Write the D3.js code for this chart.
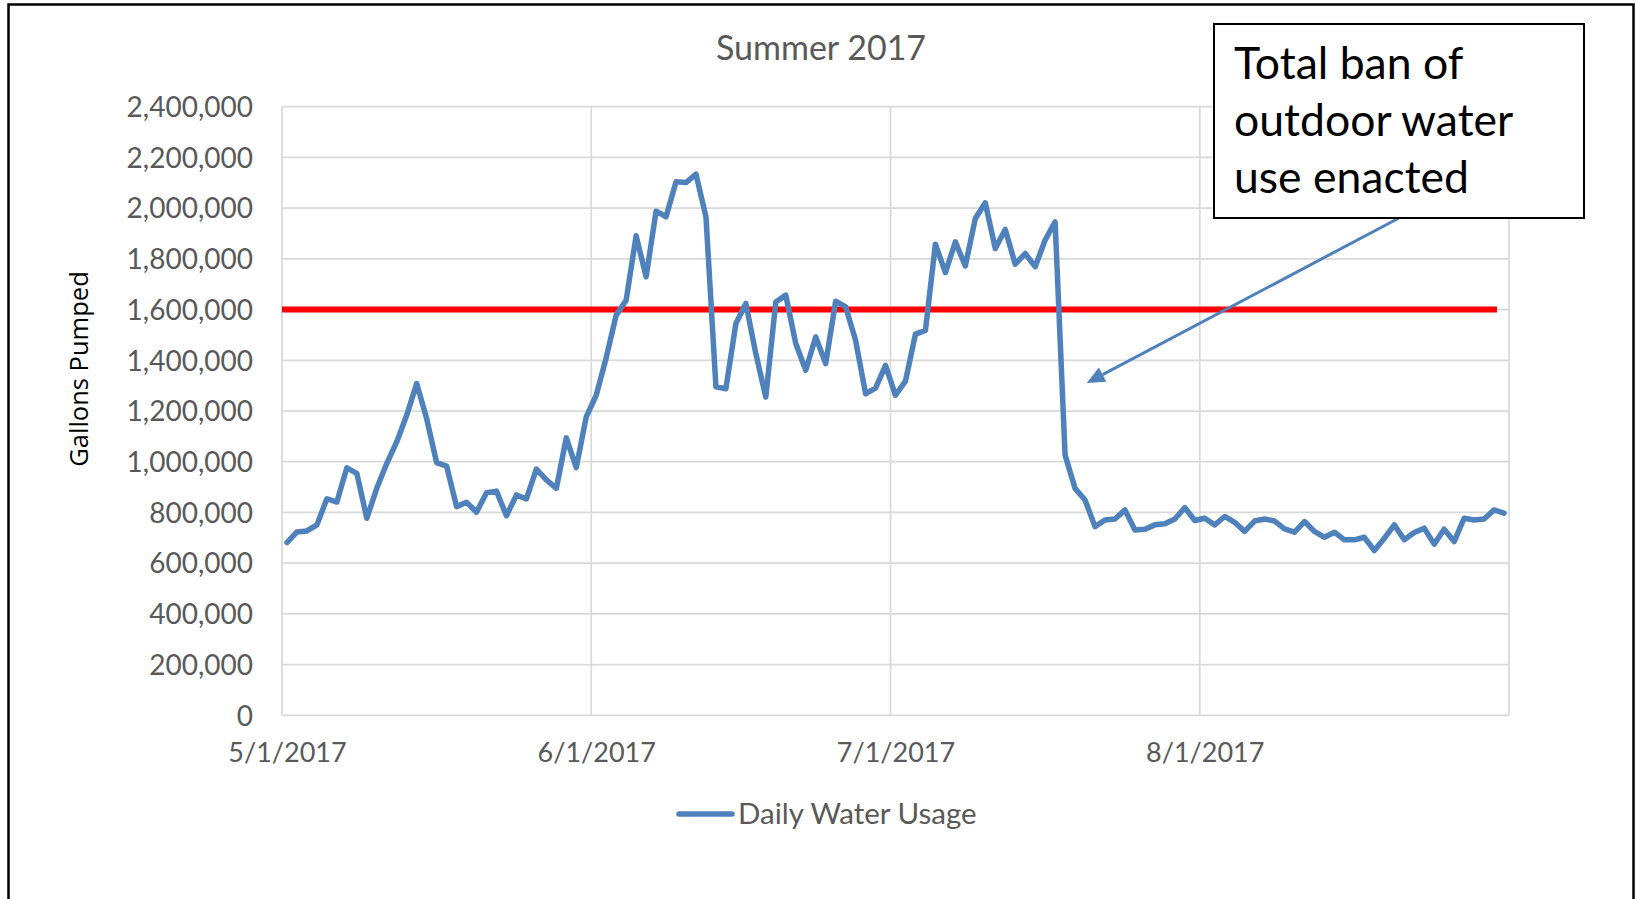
<!DOCTYPE html>
<html>
  <head>
      <title>Summer 2017</title>
      <script src="https://cdn.jsdelivr.net/npm/d3@7"></script>
      <style>
        body { margin: 0; background: #fff; }
        text { font-family: Lato, "Open Sans", sans-serif; }
      </style>
  </head>
  <body>
        <div id="chart"></div>
        <script>
           // daily gallons pumped, one array per month
           var mayUsage = [681000, 723000, 727000, 751000, 854000, 841000, 976000, 954000, 777000, 895000,
                           993000, 1078000, 1183000, 1308000, 1170000, 996000, 983000, 823000, 840000, 801000,
                           878000, 884000, 787000, 869000, 853000, 971000, 928000, 895000, 1094000, 977000, 1177000]
           var juneUsage = [1262000, 1410000, 1578000, 1637000, 1891000, 1729000, 1988000, 1966000, 2104000, 2101000,
                            2134000, 1966000, 1295000, 1288000, 1545000, 1624000, 1426000, 1255000, 1630000, 1657000,
                            1466000, 1361000, 1492000, 1387000, 1633000, 1611000, 1479000, 1268000, 1290000, 1380000]
           var julyUsage = [1262000, 1318000, 1503000, 1518000, 1858000, 1746000, 1867000, 1772000, 1959000, 2021000,
                            1841000, 1916000, 1779000, 1821000, 1769000, 1874000, 1946000, 1026000, 895000, 849000,
                            744000, 770000, 774000, 810000, 731000, 734000, 751000, 755000, 774000, 819000, 768000]
           var augustUsage = [777000, 751000, 784000, 761000, 725000, 766000, 774000, 766000, 735000, 722000,
                              764000, 725000, 702000, 722000, 692000, 692000, 702000, 650000, 698000, 751000,
                              692000, 721000, 738000, 675000, 734000, 685000, 777000, 770000, 774000, 810000, 797000]
           var monthStarts = ["5/1/2017", "6/1/2017", "7/1/2017", "8/1/2017", "9/1/2017"]
           var xTickLabels = ["5/1/2017", "6/1/2017", "7/1/2017", "8/1/2017"]
           var yTicks = [0, 200000, 400000, 600000, 800000, 1000000, 1200000, 1400000, 1600000, 1800000, 2000000, 2200000, 2400000]
           var threshold = 1600000
           var seriesName = "Daily Water Usage"
           var calloutLines = ["Total ban of", "outdoor water", "use enacted"]

           var parseDate = d3.timeParse("%m/%d/%Y")
           var usage = mayUsage.concat(juneUsage, julyUsage, augustUsage)
           var days = d3.timeDay.range(parseDate("5/1/2017"), parseDate("9/1/2017"))
           // excel puts each day's point in the middle of its slot
           var data = days.map((d,i) => ({date: d3.timeHour.offset(d, 12), value: usage[i]}))

           var width = 1636, height = 899
           var svg = d3.select("#chart").append("svg").attr("width",width).attr("height",height)
           svg.append("rect").attr("width",width).attr("height",height).attr("fill","#fff")

           var x = d3.scaleTime().domain([parseDate("5/1/2017"), parseDate("9/1/2017")]).range([282,1509])
           var y = d3.scaleLinear().domain([0,2400000]).range([715.3,106.7])

           // outer frame
           svg.append("rect").attr("x",8.5).attr("y",4.5).attr("width",1625).attr("height",1000)
              .attr("fill","none").attr("stroke","#000").attr("stroke-width",2.5)

           // gridlines
           svg.append("g").selectAll("line").data(yTicks).enter().append("line")
              .attr("x1",x.range()[0]).attr("x2",x.range()[1])
              .attr("y1",d=>y(d)).attr("y2",d=>y(d))
              .attr("stroke","#d9d9d9").attr("stroke-width",1.75)
           svg.append("g").selectAll("line").data(monthStarts).enter().append("line")
              .attr("x1",d=>x(parseDate(d))).attr("x2",d=>x(parseDate(d)))
              .attr("y1",y(0)).attr("y2",y(2400000))
              .attr("stroke","#d9d9d9").attr("stroke-width",1.75)

           // y axis labels
           var yAxis = svg.append("g").attr("transform","translate(253,0)")
              .call(d3.axisLeft(y).tickValues(yTicks).tickFormat(d3.format(",")).tickSize(0).tickPadding(0))
           yAxis.select(".domain").remove()
           yAxis.selectAll("text").attr("fill","#595959").style("font-size","28px").style("font-family","Lato").attr("dy","0.35em")

           // x axis labels, centred on the day slot
           var xAxis = svg.append("g").attr("transform","translate(0,743)")
              .call(d3.axisBottom(x).tickValues(xTickLabels.map(d => d3.timeHour.offset(parseDate(d),12)))
                 .tickFormat(d3.timeFormat("%-m/%-d/%Y")).tickSize(0).tickPadding(0))
           xAxis.select(".domain").remove()
           xAxis.selectAll("text").attr("fill","#595959").style("font-size","27px").style("font-family","Lato").attr("dy","0.71em")

           // threshold line
           svg.append("line")
              .attr("x1",x(parseDate("5/1/2017"))).attr("x2",x(d3.timeHour.offset(parseDate("8/30/2017"),19)))
              .attr("y1",y(threshold)).attr("y2",y(threshold))
              .attr("stroke","#ff0000").attr("stroke-width",6)

           var line = d3.line().x(d=>x(d.date)).y(d=>y(d.value))
           svg.append("path").datum(data).attr("d",line)
              .attr("fill","none").attr("stroke","#4f81bd").attr("stroke-width",5.5)
              .attr("stroke-linejoin","round").attr("stroke-linecap","round")

           // title
           svg.append("text").attr("x",821).attr("y",60).attr("text-anchor","middle")
              .attr("fill","#595959").style("font-size","34px").text("Summer 2017")

           // y axis title
           svg.append("text").attr("transform","translate(88,369) rotate(-90)").attr("text-anchor","middle")
              .attr("fill","#000").style("font-family","'Open Sans'").style("font-size","25.5px").text("Gallons Pumped")

           // legend
           var legend = svg.append("g")
           legend.append("line").attr("x1",679).attr("x2",732).attr("y1",814).attr("y2",814)
              .attr("stroke","#4f81bd").attr("stroke-width",5.5).attr("stroke-linecap","round")
           legend.append("text").attr("x",738).attr("y",824).attr("fill","#595959")
              .style("font-size","29.5px").text(seriesName)

           // callout with arrow pointing at the drop
           var tail = [1399, 218]
           var tip = [x(d3.timeHour.offset(parseDate("7/20/2017"),16)), y(1310000)]
           var ang = Math.atan2(tip[1]-tail[1], tip[0]-tail[0])
           var headLen = 18, headHalf = 8
           var base = [tip[0]-headLen*Math.cos(ang), tip[1]-headLen*Math.sin(ang)]
           svg.append("line").attr("x1",tail[0]).attr("y1",tail[1]).attr("x2",base[0]).attr("y2",base[1])
              .attr("stroke","#4f81bd").attr("stroke-width",3)
           svg.append("path")
              .attr("d", d3.line()([tip,
                 [base[0]+headHalf*Math.sin(ang), base[1]-headHalf*Math.cos(ang)],
                 [base[0]-headHalf*Math.sin(ang), base[1]+headHalf*Math.cos(ang)]]) + "Z")
              .attr("fill","#4f81bd")
           svg.append("rect").attr("x",1214).attr("y",24).attr("width",370).attr("height",194)
              .attr("fill","#fff").attr("stroke","#000").attr("stroke-width",2)
           svg.append("g").selectAll("text").data(calloutLines).enter().append("text")
              .attr("x",1234).attr("y",(d,i)=>79+i*57).attr("fill","#000")
              .style("font-size","44.5px").text(d=>d)
        </script>
  </body>
</html>
